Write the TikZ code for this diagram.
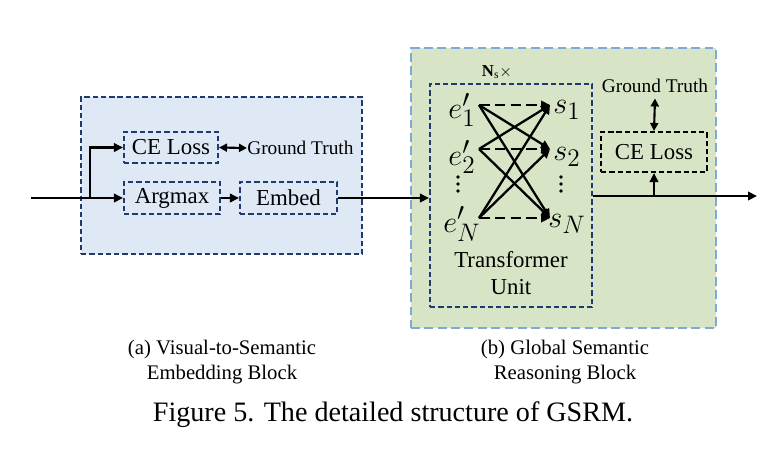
\documentclass[tikz,border=0pt]{standalone}
\usepackage{fontspec}
\setmainfont{Liberation Serif}
\usepackage{tikz}
\usetikzlibrary{arrows.meta, positioning, calc}

\definecolor{navy}{HTML}{1F3A6E}
\definecolor{skyfill}{HTML}{DFE9F6}
\definecolor{sagefill}{HTML}{D7E4C5}
\definecolor{skyline}{HTML}{7EA9D9}

\begin{document}
\begin{tikzpicture}[
  x=0.02cm, y=-0.02cm,
  arr/.style    = {-{Triangle[length=1.8mm, width=1.7mm]}, line width=1.2pt},
  dblarr/.style = {{Triangle[length=1.6mm, width=1.6mm]}-{Triangle[length=1.6mm, width=1.6mm]}, line width=1.2pt},
  crs/.style    = {-{Triangle[length=1.8mm, width=1.7mm]}, line width=1.3pt},
  opbox/.style  = {draw=navy, line width=1.2pt, dash pattern=on 3pt off 1.7pt,
                   inner sep=0pt, font=\fontsize{13}{15}\selectfont},
  blk/.style    = {line width=1.2pt, inner sep=0pt},
  lbl/.style    = {font=\fontsize{11}{13}\selectfont, inner sep=0pt},
  captxt/.style = {font=\fontsize{11.8}{14.2}\selectfont, align=center, inner sep=0pt},
  sym/.style    = {font=\fontsize{19}{21}\selectfont, inner sep=0pt},
]
\useasboundingbox (0,0) rectangle (776,458);

%% -- (a) visual-to-semantic embedding block --------------------------------
\node[blk, draw=navy, fill=skyfill, dash pattern=on 3pt off 1.7pt,
      minimum width=5.62cm, minimum height=3.14cm] (vse) at (221.5,175.5) {};
\node[opbox, minimum width=1.88cm, minimum height=0.62cm] (ce1)  at (171,147.5) {CE Loss};
\node[opbox, minimum width=1.92cm, minimum height=0.64cm] (amax) at (172,198) {Argmax};
\node[opbox, minimum width=1.94cm, minimum height=0.64cm] (emb)  at (288.5,198) {Embed};
\node[lbl, anchor=west] (gt1) at (247,148) {Ground Truth};

\coordinate (in) at (31,198);
\coordinate (split) at (90,198);
\draw[arr] (in) -- (amax.west);
\draw[arr] (split) |- (ce1.west);
\draw[arr] (amax.east) -- (emb.west);
\draw[dblarr] (ce1.east) -- (gt1.west);

%% -- (b) global semantic reasoning block -----------------------------------
\node[blk, draw=skyline, fill=sagefill, dash pattern=on 5pt off 2.6pt,
      minimum width=6.1cm, minimum height=5.6cm] (gsr) at (563.5,188) {};
\node[opbox, minimum width=3.24cm, minimum height=4.46cm] (tu) at (511,195.5) {};
\node[font=\fontsize{9.5}{11}\selectfont, inner sep=0pt] (rep) at (497,72)
  {$\mathbf{N}_{\mathrm{s}}\times$};
\node[captxt, font=\fontsize{13}{15}\selectfont] (tutxt) at (511,273) {Transformer\\Unit};

% token columns
\node[sym] (e1) at (462,110) {$e'_1$};
\node[sym] (e2) at (462,157) {$e'_2$};
\node[sym] (eN) at (462,224) {$e'_N$};
\node[sym] (s1) at (567,110) {$s_1$};
\node[sym] (s2) at (567,157) {$s_2$};
\node[sym] (sN) at (567,224) {$s_N$};
\foreach \dy in {177,184,191}{
  \fill (458,\dy) circle (1.8);
  \fill (561,\dy) circle (1.8);
}

\coordinate (a1) at (479,105);
\coordinate (a2) at (479,149);
\coordinate (aN) at (479,218);
\coordinate (b1) at (550,105);
\coordinate (b2) at (550,149);
\coordinate (bN) at (550,218);

\foreach \i in {1,2,N}
  \foreach \j in {1,2,N}{
    \ifx\i\j
      \draw[crs, dash pattern=on 6pt off 3pt] (a\i) -- (b\j);
    \else
      \draw[crs] (a\i) -- (b\j);
    \fi
  }

\node[draw, line width=1.2pt, dash pattern=on 3pt off 1.7pt, inner sep=0pt,
      minimum width=2.12cm, minimum height=0.8cm,
      font=\fontsize{13}{15}\selectfont] (ce2) at (654,152) {CE Loss};
\node[lbl] (gt2) at (655,86) {Ground Truth};

\coordinate (tap) at (654,196);
\coordinate (out) at (757,196);
\draw[arr] (emb.east) -- (emb.east -| tu.west);
\draw[arr] (tu.east |- tap) -- (out);
\draw[arr] (tap) -- (ce2.south);
\draw[dblarr] ([yshift=-3pt]gt2.south) -- (ce2.north);

%% -- captions ----------------------------------------------------------------
\node[captxt] (capa) at (222,362) {(a) Visual-to-Semantic\\Embedding Block};
\node[captxt] (capb) at (565,362) {(b) Global Semantic\\Reasoning Block};
\node[font=\fontsize{16}{19}\selectfont, inner sep=0pt] (fig) at (393,415)
  {Figure 5. The detailed structure of GSRM.};

\end{tikzpicture}
\end{document}
